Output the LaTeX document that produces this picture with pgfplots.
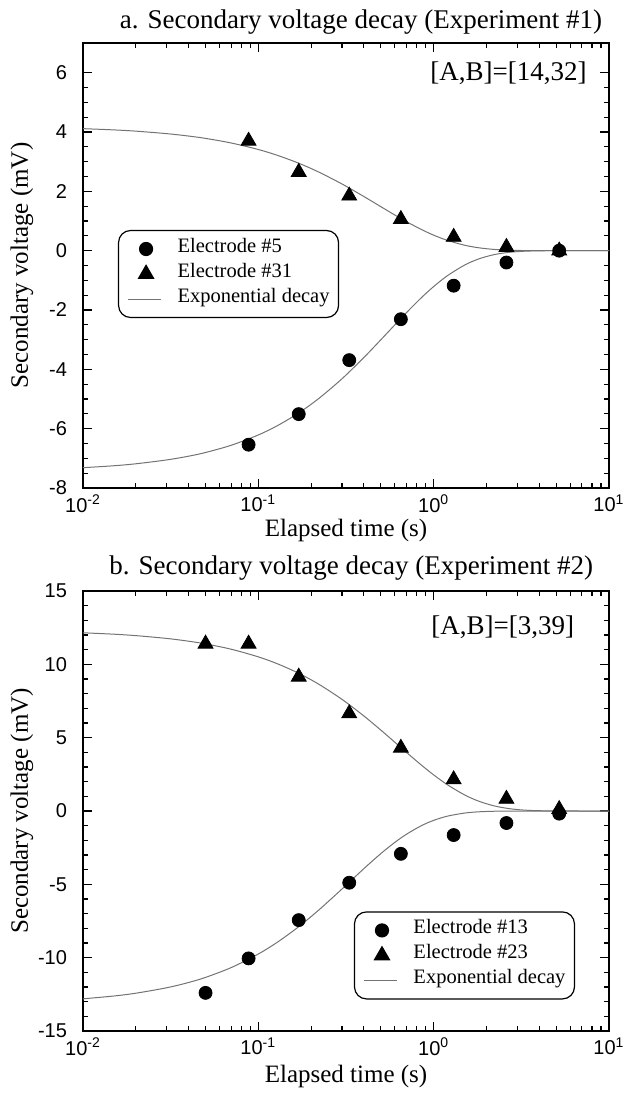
\documentclass[border=0pt]{standalone}
\usepackage{fontspec}
\setmainfont{Liberation Serif}
\newfontfamily\sansf{Liberation Sans}
\usepackage{pgfplots}
\pgfplotsset{compat=1.18}

\pgfplotstableread{
x y
0.01 4.113
0.015 4.071
0.02 4.029
0.03 3.945
0.04 3.864
0.05 3.785
0.07 3.630
0.1 3.410
0.13 3.203
0.17 2.948
0.22 2.656
0.3 2.248
0.4 1.825
0.5 1.482
0.6 1.203
0.7 0.977
0.85 0.715
1.0 0.523
1.2 0.345
1.5 0.184
1.8 0.099
2.2 0.043
2.7 0.015
3.3 0.004
4 0.001
5 0
7 0
10 0
}\curveAup
\pgfplotstableread{
x y
0.01 -7.316
0.015 -7.250
0.02 -7.184
0.03 -7.054
0.04 -6.928
0.05 -6.803
0.07 -6.560
0.1 -6.212
0.13 -5.882
0.17 -5.469
0.22 -4.994
0.3 -4.318
0.4 -3.600
0.5 -3.002
0.6 -2.503
0.7 -2.087
0.85 -1.588
1.0 -1.209
1.2 -0.840
1.5 -0.487
1.8 -0.282
2.2 -0.136
2.7 -0.055
3.3 -0.018
4 -0.005
5 0
7 0
10 0
}\curveAlo
\pgfplotstableread{
x y
0.01 12.152
0.015 12.055
0.02 11.958
0.03 11.767
0.04 11.578
0.05 11.393
0.07 11.031
0.1 10.510
0.13 10.013
0.17 9.389
0.22 8.661
0.3 7.613
0.4 6.479
0.5 5.513
0.6 4.693
0.7 3.994
0.85 3.136
1.0 2.461
1.2 1.783
1.5 1.099
1.8 0.677
2.2 0.356
2.7 0.159
3.3 0.060
4 0.020
5 0.004
7 0
10 0
}\curveBup
\pgfplotstableread{
x y
0.01 -12.806
0.015 -12.614
0.02 -12.424
0.03 -12.053
0.04 -11.694
0.05 -11.344
0.07 -10.677
0.1 -9.750
0.13 -8.902
0.17 -7.886
0.22 -6.777
0.3 -5.318
0.4 -3.928
0.5 -2.901
0.6 -2.142
0.7 -1.583
0.85 -1.004
1.0 -0.638
1.2 -0.348
1.5 -0.140
1.8 -0.056
2.2 -0.017
2.7 -0.004
3.3 -0.001
4 0
5 0
7 0
10 0
}\curveBlo

\pgfplotsset{
 mylineleg/.style={legend image code/.code={\draw[##1] (0pt,0pt) -- (16.5pt,0pt);}},
 mymarkleg/.style={legend image code/.code={\draw[##1] plot coordinates {(9pt,0pt)};}},
}

\begin{document}
\begin{tikzpicture}
\path[use as bounding box] (-41.5pt,-302.5pt) rectangle (271pt,244pt);

% ---- top panel ----
\begin{axis}[at={(0,0)}, anchor=south west,
  scale only axis, width=263pt, height=222.5pt,
  xmode=log, xmin=0.01, xmax=10,
  xtick={0.01,0.1,1,10},
  xticklabels={10\textsuperscript{-2},10\textsuperscript{-1},10\textsuperscript{0},10\textsuperscript{1}},
  ticklabel style={font=\sansf\fontsize{10}{12}\selectfont},
  yticklabel style={xshift=-4.5pt},
  axis line style={line width=1pt},
  every tick/.style={black, line width=0.6pt},
  major tick length=4.5pt, minor tick length=2.5pt,
  xlabel={Elapsed time (s)},
  ylabel={Secondary voltage (mV)},
  label style={font=\fontsize{12.5}{15}\selectfont},
  ylabel style={at={(rel axis cs:-0.116,0.5)}, anchor=center},
  xlabel style={at={(rel axis cs:0.5,-0.110)}, anchor=base},
  title={a. Secondary voltage decay (Experiment \#1)},
  title style={font=\fontsize{13.5}{16}\selectfont, anchor=base, at={(rel axis cs:0.5285,1.0067)}},
  ymin=-8, ymax=7, ytick={-8,-6,-4,-2,0,2,4,6},
  yticklabels={-8,-6,-4,-2,0,2,4,6}, minor y tick num=3,
  legend cell align=left,
  legend style={draw=black, line width=0.6pt, rounded corners=6pt,
    inner xsep=4.5pt, inner ysep=3pt,
    font=\fontsize{10.25}{12.5}\selectfont,
    nodes={inner sep=0pt, text height=8pt, text depth=4.5pt},
    /tikz/every odd column/.append style={column sep=8pt},
    anchor=north west, at={(rel axis cs:0.0665,0.580)}},
  legend image post style={sharp corners}]
\addplot[only marks, mark=*, mark size=3.25pt, black, mymarkleg] coordinates {(0.088,-6.54) (0.17,-5.51) (0.33,-3.69) (0.65,-2.31) (1.3,-1.18) (2.6,-0.40) (5.2,0.0)};
\addplot[only marks, mark=triangle*, mark size=4.3pt, black, mymarkleg] coordinates {(0.088,3.70) (0.17,2.65) (0.33,1.85) (0.65,1.06) (1.3,0.46) (2.6,0.12) (5.2,0.0)};
\addplot[color=black!55, line width=0.5pt, smooth, no markers, mylineleg] table {\curveAup};
\addplot[color=black!55, line width=0.5pt, smooth, no markers, forget plot] table {\curveAlo};
\legend{Electrode \#5, Electrode \#31, Exponential decay}
\node[anchor=east, font=\fontsize{13.5}{16}\selectfont] at (rel axis cs:0.971,0.933) {[A,B]=[14,32]};
\end{axis}

% ---- bottom panel ----
\begin{axis}[at={(0,-51.5pt)}, anchor=north west,
  scale only axis, width=263pt, height=220pt,
  xmode=log, xmin=0.01, xmax=10,
  xtick={0.01,0.1,1,10},
  xticklabels={10\textsuperscript{-2},10\textsuperscript{-1},10\textsuperscript{0},10\textsuperscript{1}},
  ticklabel style={font=\sansf\fontsize{10}{12}\selectfont},
  yticklabel style={xshift=-4.5pt},
  axis line style={line width=1pt},
  every tick/.style={black, line width=0.6pt},
  major tick length=4.5pt, minor tick length=2.5pt,
  xlabel={Elapsed time (s)},
  ylabel={Secondary voltage (mV)},
  label style={font=\fontsize{12.5}{15}\selectfont},
  ylabel style={at={(rel axis cs:-0.116,0.5)}, anchor=center},
  xlabel style={at={(rel axis cs:0.5,-0.116)}, anchor=base},
  title={b. Secondary voltage decay (Experiment \#2)},
  title style={font=\fontsize{13.5}{16}\selectfont, anchor=base, at={(rel axis cs:0.51,1.0113)}},
  ymin=-15, ymax=15, ytick={-15,-10,-5,0,5,10,15},
  yticklabels={-15,-10,-5,0,5,10,15}, minor y tick num=4,
  legend cell align=left,
  legend style={draw=black, line width=0.6pt, rounded corners=6pt,
    inner xsep=4.5pt, inner ysep=3pt,
    font=\fontsize{10.25}{12.5}\selectfont,
    nodes={inner sep=0pt, text height=8pt, text depth=4.5pt},
    /tikz/every odd column/.append style={column sep=8pt},
    anchor=north west, at={(rel axis cs:0.515,0.272)}},
  legend image post style={sharp corners}]
\addplot[only marks, mark=*, mark size=3.25pt, black, mymarkleg] coordinates {(0.05,-12.40) (0.088,-10.05) (0.17,-7.44) (0.33,-4.89) (0.65,-2.92) (1.3,-1.64) (2.6,-0.82) (5.2,-0.18)};
\addplot[only marks, mark=triangle*, mark size=4.3pt, black, mymarkleg] coordinates {(0.05,11.40) (0.088,11.40) (0.17,9.15) (0.33,6.65) (0.65,4.30) (1.3,2.15) (2.6,0.82) (5.2,0.12)};
\addplot[color=black!55, line width=0.5pt, smooth, no markers, mylineleg] table {\curveBup};
\addplot[color=black!55, line width=0.5pt, smooth, no markers, forget plot] table {\curveBlo};
\legend{Electrode \#13, Electrode \#23, Exponential decay}
\node[anchor=east, font=\fontsize{13.5}{16}\selectfont] at (rel axis cs:0.947,0.917) {[A,B]=[3,39]};
\end{axis}
\end{tikzpicture}
\end{document}
